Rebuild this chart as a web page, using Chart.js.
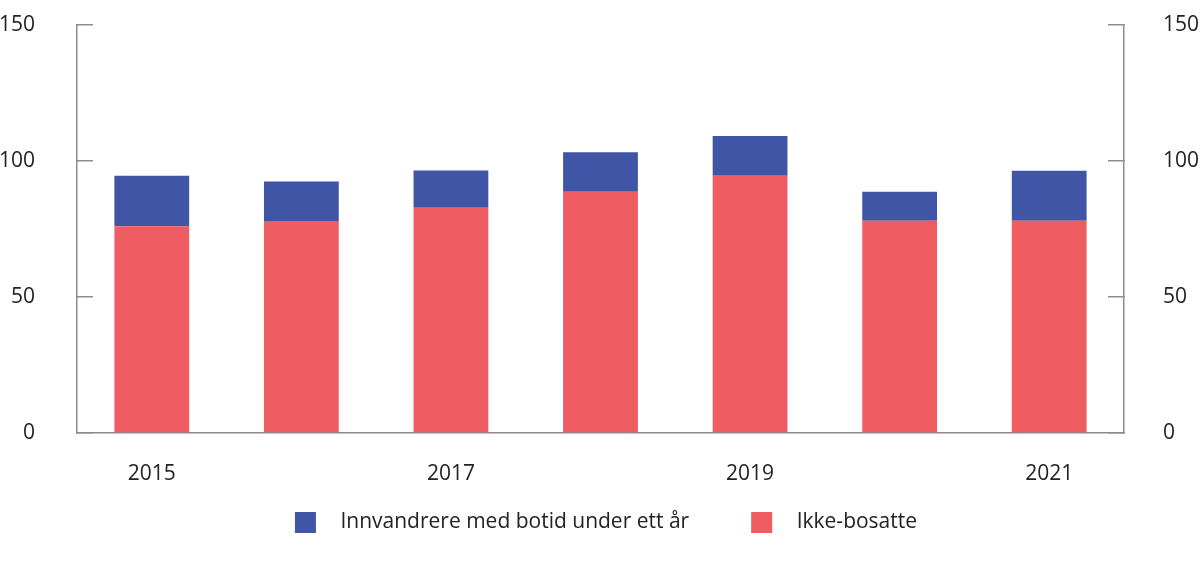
<!DOCTYPE html>
<html>
<head>
<meta charset="utf-8">
<script src="https://cdn.jsdelivr.net/npm/chart.js@4/dist/chart.umd.min.js"></script>
<style>
  html, body { margin: 0; padding: 0; background: #fff; }
  #wrap { width: 1200px; height: 567px; }
</style>
</head>
<body>
<div id="wrap"><canvas id="chart" width="1200" height="567"></canvas></div>
<script>
const years = ['2015', '2016', '2017', '2018', '2019', '2020', '2021'];
const ikkeBosatte = [76.0, 77.9, 82.8, 88.7, 94.6, 78.0, 78.0];
const innvandrere = [18.6, 14.6, 13.7, 14.5, 14.6, 10.7, 18.4];
const yTicks = [0, 50, 100, 150];

const red = '#ef5d63';
const blue = '#4055a6';
const axisGrey = '#8c8c8c';
const textColor = '#222222';

const legendPad = 20;
const legendTop = 512 - legendPad;
const shiftRight = 12; // legend sits a little right of centre in the original

Chart.defaults.font.family = '"Open Sans", sans-serif';
Chart.defaults.color = textColor;

function yAxis(position) {
  return {
    position: position,
    stacked: true,
    min: 0,
    max: 150,
    afterBuildTicks: scale => { scale.ticks = yTicks.map(v => ({ value: v })); },
    afterFit: scale => {
      scale.width = position === 'left' ? 77 : 76 + shiftRight;
      // labels stay inside the canvas anyway; don't let them pad the plot
      scale.paddingTop = 0;
      scale.paddingBottom = 0;
    },
    border: { display: true, color: axisGrey, width: 1.5 },
    grid: { drawOnChartArea: false, drawTicks: true, tickLength: -16, color: axisGrey, lineWidth: 1.5 },
    ticks: { font: { size: 21 }, padding: position === 'left' ? 58 : 55, color: textColor }
  };
}

const legendHeight = {
  id: 'legendHeight',
  beforeInit(chart) {
    const fit = chart.legend.fit;
    chart.legend.fit = function () {
      fit.call(this);
      this.height = 567 - legendTop;
    };
  }
};

new Chart(document.getElementById('chart'), {
  type: 'bar',
  data: {
    labels: years,
    datasets: [
      { label: 'Ikke-bosatte', data: ikkeBosatte, backgroundColor: red, yAxisID: 'y' },
      { label: 'Innvandrere med botid under ett år', data: innvandrere, backgroundColor: blue, yAxisID: 'y' },
      { label: '', data: [], yAxisID: 'y2' }
    ]
  },
  plugins: [legendHeight],
  options: {
    responsive: false,
    animation: false,
    layout: { padding: { top: 25, right: -shiftRight, bottom: 0, left: 0 } },
    datasets: { bar: { categoryPercentage: 1, barPercentage: 0.5 } },
    scales: {
      x: {
        stacked: true,
        border: { display: true, color: axisGrey, width: 1.5 },
        grid: { display: false },
        afterFit: scale => { scale.height = legendTop - 433; },
        ticks: {
          autoSkip: false,
          maxRotation: 0,
          padding: 20,
          font: { size: 21 },
          color: textColor,
          callback: (v, i) => (i % 2 === 0 ? years[i] : '')
        }
      },
      y: yAxis('left'),
      y2: yAxis('right')
    },
    plugins: {
      tooltip: { enabled: false },
      legend: {
        position: 'bottom',
        reverse: true,
        labels: {
          boxWidth: 21,
          boxHeight: 21,
          padding: legendPad,
          color: textColor,
          font: { size: 21 },
          generateLabels: chart => Chart.defaults.plugins.legend.labels.generateLabels(chart)
            .filter(item => item.text !== '')
            .map(item => Object.assign(item, {
              text: '\u2002\u2009' + item.text + (item.datasetIndex === 1 ? '\u2003\u2003' : '')
            }))
        }
      }
    }
  }
});
</script>
</body>
</html>
